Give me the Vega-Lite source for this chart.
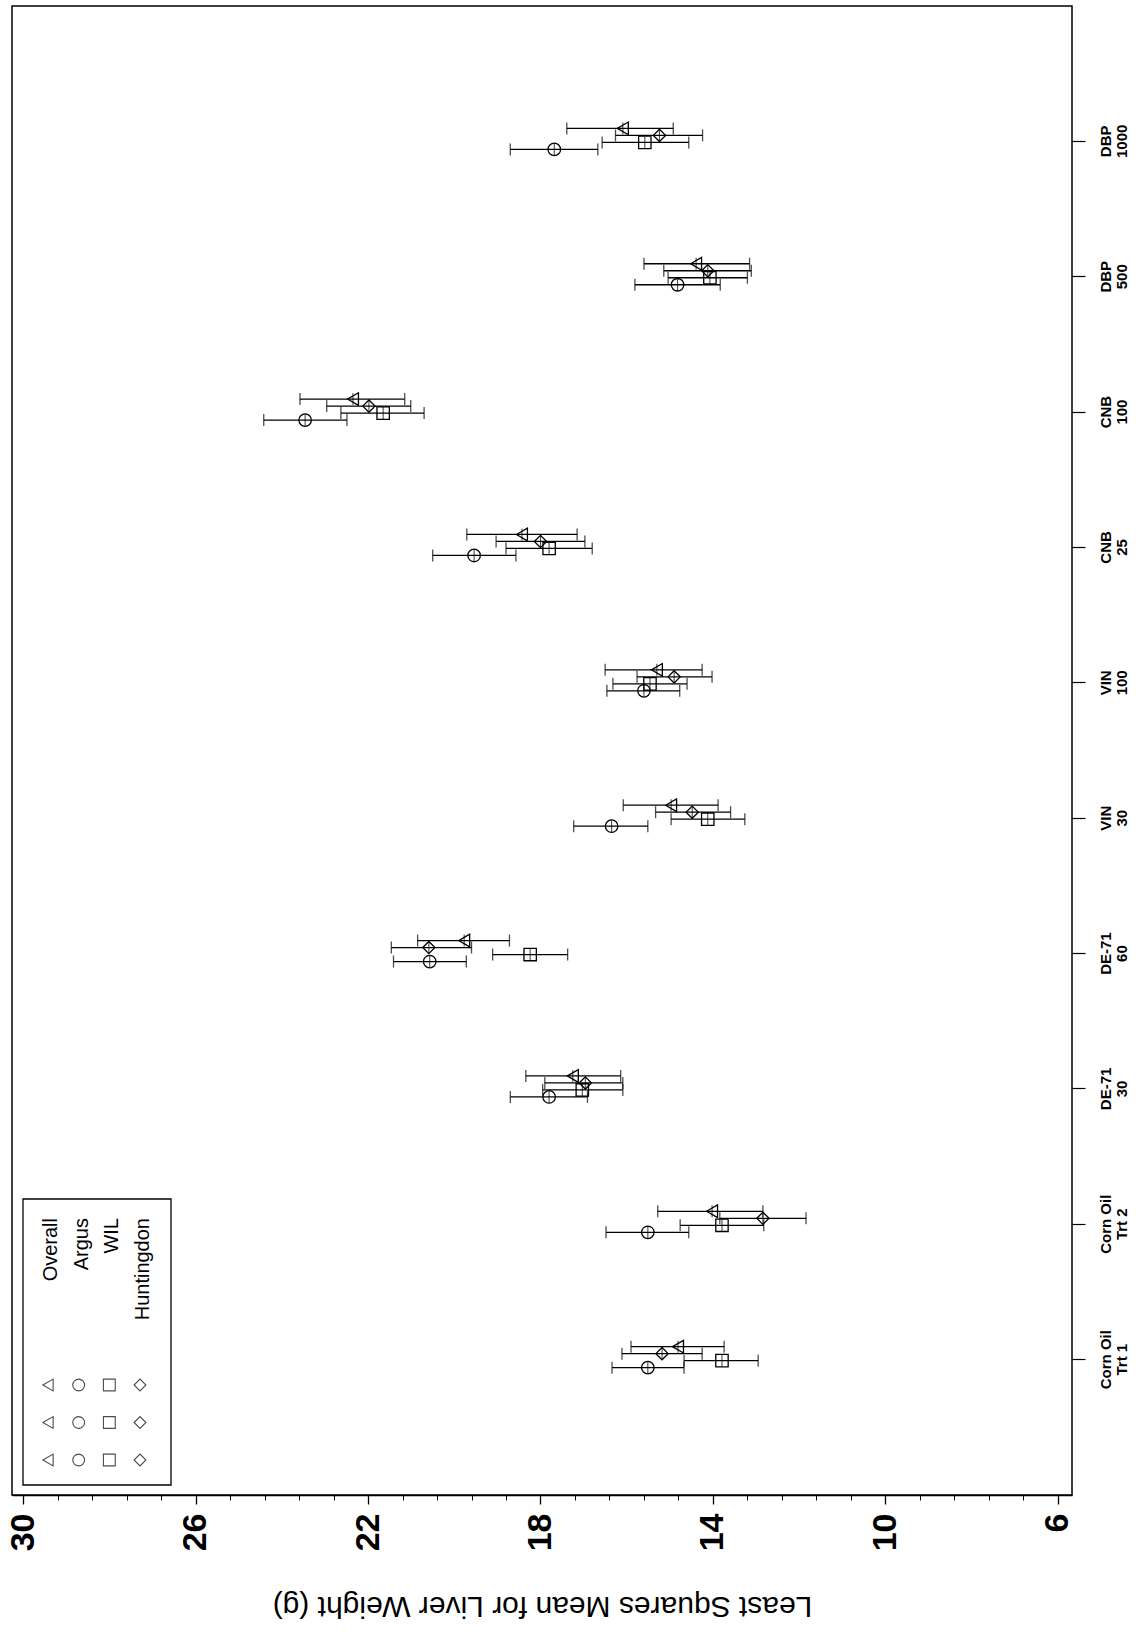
{
  "$schema": "https://vega.github.io/schema/vega-lite/v6.json",
  "width": 1060,
  "height": 1489,
  "autosize": "none",
  "padding": {"left": 12, "top": 6, "right": 67, "bottom": 142},
  "background": "white",
  "config": {
    "view": {"stroke": "black", "strokeWidth": 1.5},
    "font": "Liberation Sans",
    "axis": {"grid": false, "domainColor": "black", "tickColor": "black", "labelColor": "black", "titleColor": "black"}
  },
  "layer": [
    {
      "data": {
        "values": [
          {"group": "DBP|1000", "series": "Overall", "mean": 16.09, "lower": 14.92, "upper": 17.39},
          {"group": "DBP|1000", "series": "Huntingdon", "mean": 15.24, "lower": 14.24, "upper": 16.26},
          {"group": "DBP|1000", "series": "WIL", "mean": 15.58, "lower": 14.56, "upper": 16.57},
          {"group": "DBP|1000", "series": "Argus", "mean": 17.68, "lower": 16.67, "upper": 18.70},
          {"group": "DBP|500", "series": "Overall", "mean": 14.39, "lower": 13.15, "upper": 15.60},
          {"group": "DBP|500", "series": "Huntingdon", "mean": 14.12, "lower": 13.11, "upper": 15.14},
          {"group": "DBP|500", "series": "WIL", "mean": 14.07, "lower": 13.20, "upper": 15.04},
          {"group": "DBP|500", "series": "Argus", "mean": 14.82, "lower": 13.83, "upper": 15.81},
          {"group": "CNB|100", "series": "Overall", "mean": 22.35, "lower": 21.15, "upper": 23.58},
          {"group": "CNB|100", "series": "Huntingdon", "mean": 21.98, "lower": 21.01, "upper": 22.96},
          {"group": "CNB|100", "series": "WIL", "mean": 21.65, "lower": 20.70, "upper": 22.63},
          {"group": "CNB|100", "series": "Argus", "mean": 23.46, "lower": 22.49, "upper": 24.42},
          {"group": "CNB|25", "series": "Overall", "mean": 18.43, "lower": 17.15, "upper": 19.71},
          {"group": "CNB|25", "series": "Huntingdon", "mean": 18.0, "lower": 16.97, "upper": 19.03},
          {"group": "CNB|25", "series": "WIL", "mean": 17.8, "lower": 16.8, "upper": 18.8},
          {"group": "CNB|25", "series": "Argus", "mean": 19.54, "lower": 18.57, "upper": 20.50},
          {"group": "VIN|100", "series": "Overall", "mean": 15.30, "lower": 14.25, "upper": 16.5},
          {"group": "VIN|100", "series": "Huntingdon", "mean": 14.90, "lower": 14.02, "upper": 15.76},
          {"group": "VIN|100", "series": "WIL", "mean": 15.46, "lower": 14.60, "upper": 16.32},
          {"group": "VIN|100", "series": "Argus", "mean": 15.60, "lower": 14.77, "upper": 16.46},
          {"group": "VIN|30", "series": "Overall", "mean": 14.97, "lower": 13.88, "upper": 16.08},
          {"group": "VIN|30", "series": "Huntingdon", "mean": 14.48, "lower": 13.59, "upper": 15.33},
          {"group": "VIN|30", "series": "WIL", "mean": 14.12, "lower": 13.26, "upper": 14.97},
          {"group": "VIN|30", "series": "Argus", "mean": 16.35, "lower": 15.51, "upper": 17.23},
          {"group": "DE-71|60", "series": "Overall", "mean": 19.77, "lower": 18.72, "upper": 20.85},
          {"group": "DE-71|60", "series": "Huntingdon", "mean": 20.59, "lower": 19.6, "upper": 21.46},
          {"group": "DE-71|60", "series": "WIL", "mean": 18.24, "lower": 17.37, "upper": 19.11},
          {"group": "DE-71|60", "series": "Argus", "mean": 20.57, "lower": 19.72, "upper": 21.41},
          {"group": "DE-71|30", "series": "Overall", "mean": 17.25, "lower": 16.14, "upper": 18.34},
          {"group": "DE-71|30", "series": "Huntingdon", "mean": 16.96, "lower": 16.09, "upper": 17.9},
          {"group": "DE-71|30", "series": "WIL", "mean": 17.03, "lower": 16.09, "upper": 17.95},
          {"group": "DE-71|30", "series": "Argus", "mean": 17.80, "lower": 16.91, "upper": 18.70},
          {"group": "Corn Oil|Trt 2", "series": "Overall", "mean": 14.02, "lower": 12.84, "upper": 15.28},
          {"group": "Corn Oil|Trt 2", "series": "Huntingdon", "mean": 12.84, "lower": 11.84, "upper": 13.84},
          {"group": "Corn Oil|Trt 2", "series": "WIL", "mean": 13.79, "lower": 12.82, "upper": 14.76},
          {"group": "Corn Oil|Trt 2", "series": "Argus", "mean": 15.51, "lower": 14.56, "upper": 16.48},
          {"group": "Corn Oil|Trt 1", "series": "Overall", "mean": 14.81, "lower": 13.74, "upper": 15.90},
          {"group": "Corn Oil|Trt 1", "series": "Huntingdon", "mean": 15.18, "lower": 14.25, "upper": 16.11},
          {"group": "Corn Oil|Trt 1", "series": "WIL", "mean": 13.79, "lower": 12.95, "upper": 14.67},
          {"group": "Corn Oil|Trt 1", "series": "Argus", "mean": 15.51, "lower": 14.67, "upper": 16.34}
        ]
      },
      "encoding": {
        "y": {
          "field": "group",
          "type": "nominal",
          "sort": ["DBP|1000", "DBP|500", "CNB|100", "CNB|25", "VIN|100", "VIN|30", "DE-71|60", "DE-71|30", "Corn Oil|Trt 2", "Corn Oil|Trt 1"],
          "scale": {"type": "band", "paddingInner": 0, "paddingOuter": 0.5},
          "axis": {
            "orient": "right",
            "title": null,
            "domain": false,
            "ticks": true,
            "tickSize": 13,
            "tickWidth": 1.2,
            "bandPosition": 0.5,
            "labelAngle": -90,
            "labelAlign": "center",
            "labelBaseline": "top",
            "labelPadding": 13,
            "labelFont": "Liberation Sans Narrow, Liberation Sans",
            "labelFontSize": 15,
            "labelFontWeight": "bold",
            "labelLineHeight": 16,
            "labelExpr": "split(datum.label, '|')"
          }
        },
        "yOffset": {
          "field": "series",
          "type": "nominal",
          "sort": ["Overall", "Huntingdon", "WIL", "Argus"],
          "scale": {"domain": ["Overall", "Huntingdon", "WIL", "Argus"], "range": [51.2, 79.2], "paddingInner": 0, "paddingOuter": 0}
        }
      },
      "layer": [
        {
          "mark": {"type": "rule", "stroke": "black", "strokeWidth": 1.3},
          "encoding": {
            "x": {
              "field": "lower",
              "type": "quantitative",
              "scale": {"domain": [5.67, 30.26], "reverse": true, "nice": false, "zero": false},
              "axis": {
                "orient": "bottom",
                "values": [30, 26, 22, 18, 14, 10, 6],
                "tickSize": 9,
                "tickWidth": 1.3,
                "domain": true,
                "domainWidth": 1.5,
                "labelAngle": -90,
                "labelAlign": "right",
                "labelBaseline": "middle",
                "labelPadding": 9,
                "labelFontSize": 34,
                "labelFontWeight": "bold",
                "labelFlush": false,
                "labelOverlap": false,
                "title": "Least Squares Mean for Liver Weight (g)",
                "titleAngle": 180,
                "titleFontSize": 30,
                "titleFontWeight": "normal",
                "titleY": 110,
                "titleBaseline": "middle",
                "titleAlign": "center"
              }
            },
            "x2": {"field": "upper"}
          }
        },
        {
          "mark": {"type": "tick", "orient": "vertical", "size": 12, "thickness": 1.3, "color": "black"},
          "encoding": {"x": {"field": "lower", "type": "quantitative", "axis": null}}
        },
        {
          "mark": {"type": "tick", "orient": "vertical", "size": 12, "thickness": 1.3, "color": "black"},
          "encoding": {"x": {"field": "upper", "type": "quantitative", "axis": null}}
        },
        {
          "mark": {"type": "tick", "orient": "vertical", "size": 12, "thickness": 1.1, "color": "black"},
          "encoding": {"x": {"field": "mean", "type": "quantitative", "axis": null}}
        },
        {
          "mark": {"type": "point", "filled": false, "stroke": "black", "strokeWidth": 1.3, "opacity": 1},
          "encoding": {
            "x": {"field": "mean", "type": "quantitative", "axis": null},
            "shape": {
              "field": "series",
              "type": "nominal",
              "scale": {"domain": ["Overall", "Argus", "WIL", "Huntingdon"], "range": ["triangle-left", "circle", "square", "diamond"]},
              "legend": null
            },
            "size": {
              "field": "series",
              "type": "ordinal",
              "scale": {"domain": ["Overall", "Argus", "WIL", "Huntingdon"], "range": [160, 150, 210, 150]},
              "legend": null
            }
          }
        },
        {
          "mark": {"type": "rule", "opacity": 0},
          "encoding": {
            "x": {
              "field": "mean",
              "type": "quantitative",
              "axis": {
                "orient": "bottom",
                "values": [30, 29.2, 28.4, 27.6, 26.8, 26, 25.2, 24.4, 23.6, 22.8, 22, 21.2, 20.4, 19.6, 18.8, 18, 17.2, 16.4, 15.6, 14.8, 14, 13.2, 12.4, 11.6, 10.8, 10, 9.2, 8.4, 7.6, 6.8, 6],
                "tickSize": 5,
                "tickWidth": 1,
                "labels": false,
                "domain": false,
                "title": null
              }
            }
          }
        }
      ],
      "resolve": {"axis": {"x": "independent"}}
    },
    {
      "data": {
        "values": [
          {"series": "Overall", "rep": 1}, {"series": "Overall", "rep": 2}, {"series": "Overall", "rep": 3},
          {"series": "Argus", "rep": 1}, {"series": "Argus", "rep": 2}, {"series": "Argus", "rep": 3},
          {"series": "WIL", "rep": 1}, {"series": "WIL", "rep": 2}, {"series": "WIL", "rep": 3},
          {"series": "Huntingdon", "rep": 1}, {"series": "Huntingdon", "rep": 2}, {"series": "Huntingdon", "rep": 3}
        ]
      },
      "layer": [
        {
          "data": {"values": [{"box": "legend"}]},
          "mark": {"type": "rect", "filled": false, "stroke": "black", "strokeWidth": 1.3},
          "encoding": {"x": {"value": 11}, "x2": {"value": 159}, "y": {"value": 1193}, "y2": {"value": 1479}}
        },
        {
          "mark": {"type": "point", "filled": false, "stroke": "black", "strokeWidth": 1.1, "size": 140},
          "encoding": {
            "x": {"field": "series", "type": "nominal", "scale": {"type": "point", "domain": ["Overall", "Argus", "WIL", "Huntingdon"], "range": [36, 128], "padding": 0}, "axis": null},
            "y": {"field": "rep", "type": "ordinal", "scale": {"type": "point", "range": [1379, 1454], "padding": 0}, "axis": null},
            "shape": {"field": "series", "type": "nominal", "legend": null}
          }
        },
        {
          "transform": [{"filter": "datum.rep == 1"}],
          "mark": {"type": "text", "angle": -90, "align": "right", "baseline": "middle", "fontSize": 20, "dy": 3, "color": "black"},
          "encoding": {
            "x": {"field": "series", "type": "nominal", "axis": null},
            "y": {"value": 1212},
            "text": {"field": "series"}
          }
        }
      ]
    }
  ],
  "resolve": {"scale": {"x": "independent", "y": "independent", "yOffset": "independent", "size": "independent"}}
}
